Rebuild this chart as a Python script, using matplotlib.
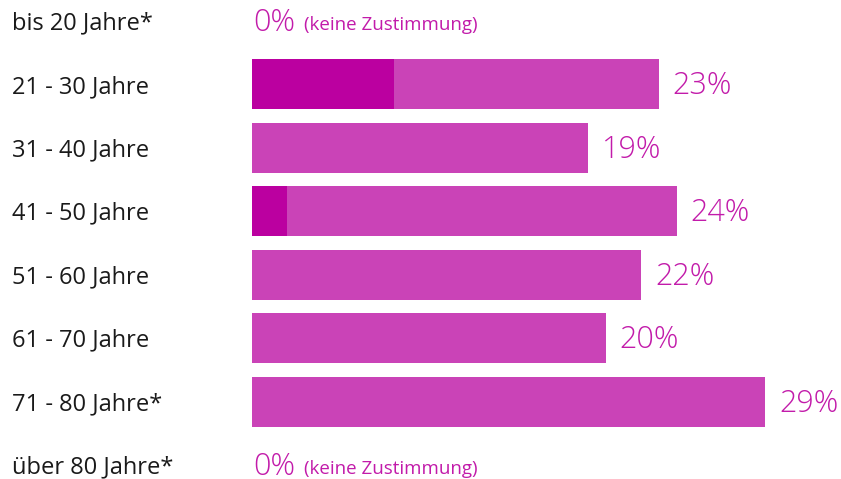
import matplotlib.pyplot as plt
import matplotlib.transforms as mtransforms

plt.rcParams['font.family'] = ['Open Sans', 'DejaVu Sans']

# Zustimmung nach Altersgruppe (in %)
groups = ["bis 20 Jahre*", "21 - 30 Jahre", "31 - 40 Jahre", "41 - 50 Jahre",
          "51 - 60 Jahre", "61 - 70 Jahre", "71 - 80 Jahre*", "über 80 Jahre*"]
total = [0, 23, 19, 24, 22, 20, 29, 0]
strong = [0, 8, 0, 2, 0, 0, 0, 0]   # dunkler Anteil am Balken

light_col = "#CA43B7"
dark_col = "#BB00A0"
text_col = "#C21BAA"

fig = plt.figure(figsize=(8.41, 4.79), dpi=100)
ax = fig.add_axes([252 / 841, 0, 1 - 252 / 841, 1])
ax.set_xlim(0, 33.3)
ax.set_ylim(7.22, -0.331)
ax.axis("off")

ypos = list(range(len(groups)))
ax.barh(ypos, total, height=0.79, color=light_col, linewidth=0)
ax.barh(ypos, strong, height=0.79, color=dark_col, linewidth=0)

# Texte auf der Grundlinie, um die halbe Versalhöhe nach unten versetzt
lab = mtransforms.blended_transform_factory(fig.transFigure, ax.transData)
lab = mtransforms.offset_copy(lab, fig=fig, x=0, y=-8.5, units="dots")
off = mtransforms.offset_copy(ax.transData, fig=fig, x=14, y=-10, units="dots")
off0 = mtransforms.offset_copy(ax.transData, fig=fig, x=1, y=-10, units="dots")

for y, name, v in zip(ypos, groups, total):
    ax.text(12 / 841, y, name, transform=lab, ha="left", va="baseline",
            fontsize=17, color="#1a1a1a")
    if v == 0:
        t = ax.text(v, y, "0%", transform=off0, ha="left", va="baseline",
                    fontsize=22, color=text_col, fontweight="light")
        ax.annotate("(keine Zustimmung)", xy=(1, 0.45), xycoords=t,
                    xytext=(6.5, 0), textcoords="offset points",
                    ha="left", va="center", fontsize=13.5, color=text_col)
    else:
        ax.text(v, y, f"{v}%", transform=off, ha="left", va="baseline",
                fontsize=22, color=text_col, fontweight="light")

fig.savefig("out.png", dpi=100, facecolor="white")
